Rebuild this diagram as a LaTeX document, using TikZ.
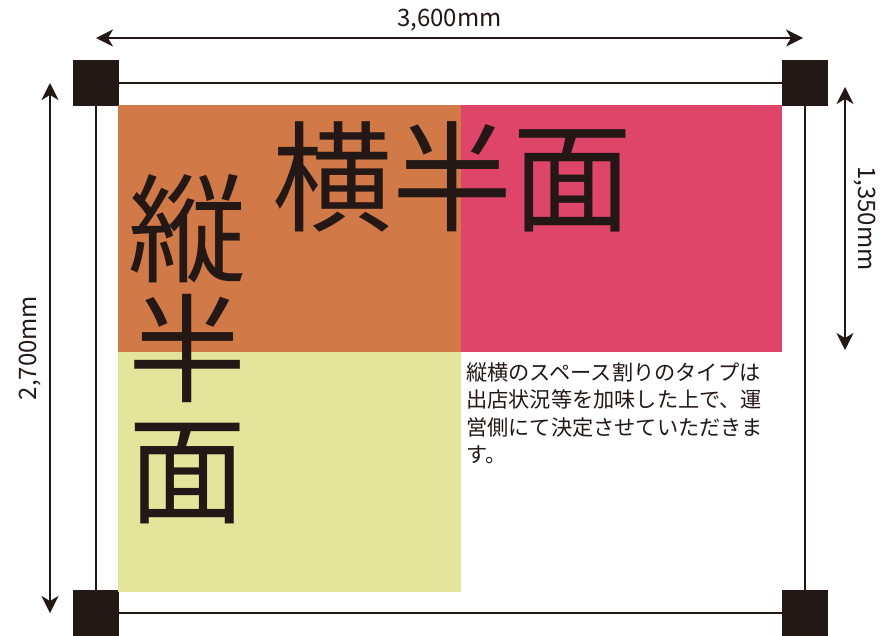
\documentclass[tikz,border=0pt]{standalone}
\usepackage{fontspec}
\setmainfont{Noto Sans CJK JP}
\usetikzlibrary{arrows.meta}
\definecolor{sumi}{HTML}{231815}
\definecolor{daidai}{HTML}{D17A47}
\definecolor{beni}{HTML}{DF4469}
\definecolor{kimidori}{HTML}{E3E59B}

\begin{document}
\begin{tikzpicture}[x=1pt,y=-1pt,
  waku/.style={draw=sumi,line width=1.6pt},
  kado/.style={fill=sumi,minimum size=46pt,inner sep=0pt},
  sunpo/.style={draw=sumi,line width=1.6pt,{Stealth[length=17pt,width=17pt,inset=5pt]}-{Stealth[length=17pt,width=17pt,inset=5pt]}},
  sunpomoji/.style={font=\fontsize{24}{24}\selectfont,text=sumi,inner sep=0pt}]
\useasboundingbox (0,0) rectangle (894,635);
% corners and frame
\node (hidariue) at (96,83) [kado] {};
\node (migiue) at (805,83) [kado] {};
\node (hidarishita) at (96,613) [kado] {};
\node (migishita) at (805,613) [kado] {};
\draw[waku] (hidariue) -- (migiue);
\draw[waku] (migiue) -- (migishita);
\draw[waku] (migishita) -- (hidarishita);
\draw[waku] (hidarishita) -- (hidariue);
% areas
\fill[daidai] (118,105) rectangle (461,352);
\fill[beni] (461,105) rectangle (782,352);
\fill[kimidori] (118,352) rectangle (461,592);
\node (yoko) at (452,177) [font=\fontsize{120}{120}\selectfont,text=sumi,inner sep=0pt] {横半面};
\node (tate) at (187,349) [font=\fontsize{118}{120.5}\selectfont,align=center,text=sumi,inner sep=0pt] {縦\\半\\面};
\node (setsumei) at (466,362) [anchor=north west,align=left,inner sep=0pt,font=\fontsize{21.2}{27.5}\selectfont,text=sumi] {縦横のスペース割りのタイプは\\出店状況等を加味した上で、運\\営側にて決定させていただきま\\す。};
% dimensions
\coordinate (habahidari) at (96,38);
\coordinate (habamigi) at (803,38);
\coordinate (takaue) at (50,83);
\coordinate (takashita) at (50,613);
\coordinate (hanue) at (845,87);
\coordinate (hanshita) at (845,350);
\draw[sunpo] (habahidari) -- (habamigi) node[midway,above=6pt,sunpomoji] {3,600mm};
\draw[sunpo] (takaue) -- (takashita) node[midway,rotate=90,above=8pt,sunpomoji] {2,700mm};
\draw[sunpo] (hanue) -- (hanshita) node[midway,rotate=-90,above=8pt,sunpomoji] {1,350mm};
\end{tikzpicture}
\end{document}
